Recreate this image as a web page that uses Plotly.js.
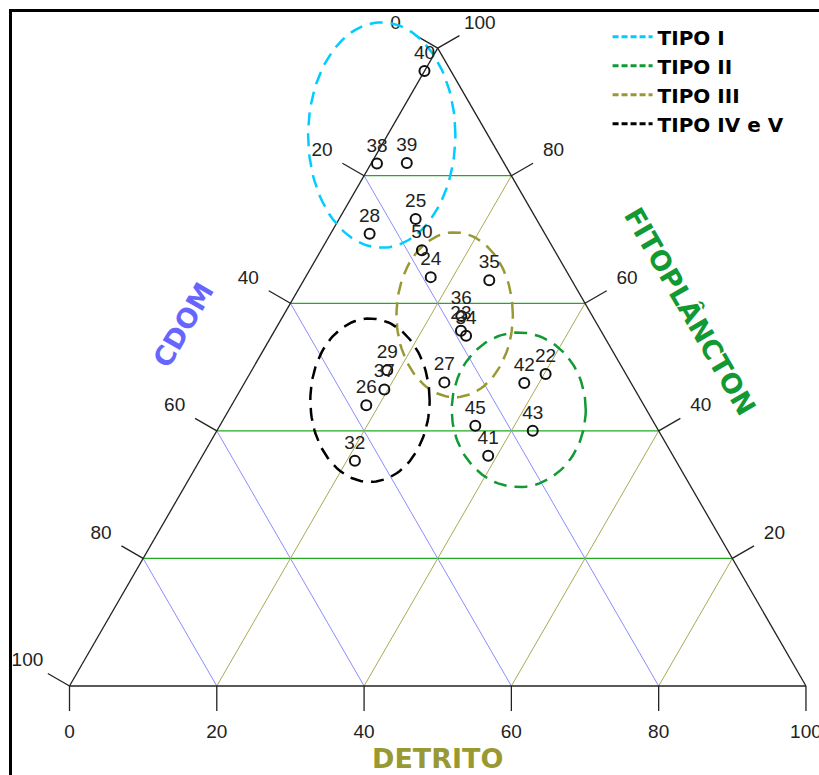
<!DOCTYPE html>
<html>
<head>
<meta charset="utf-8">
<script src="https://cdn.plot.ly/plotly-3.0.1.min.js"></script>
<style>html,body{margin:0;padding:0;background:#fff;}#chart{width:819px;height:775px;}</style>
</head>
<body>
<div id="chart"></div>
<script>
// ---------- data ----------
const sampleIds = ['40','38','39','25','28','50','24','35','36','23','34','29','37','26','32','27','42','22','45','43','41'];
const detrito = [0, 0.8, 4.8, 10.4, 5.3, 13.7, 17.0, 25.2, 24.2, 25.3, 26.4, 18.4, 19.5, 18.3, 21.1, 27.1, 38.0, 40.2, 34.7, 42.9, 38.8];
const cdom = [3.6, 17.3, 13.2, 16.4, 23.8, 18.0, 18.9, 11.2, 17.8, 19.0, 18.7, 32.1, 34.0, 37.7, 43.6, 25.3, 14.5, 10.9, 24.5, 17.1, 25.1];
const fitoplancton = [96.4, 81.9, 82.0, 73.2, 70.9, 68.3, 64.1, 63.6, 58.0, 55.7, 54.9, 49.5, 46.5, 44.0, 35.3, 47.6, 47.5, 48.9, 40.8, 40.0, 36.1];

const ternaryTicks = [0, 20, 40, 60, 80, 100];
const gridValues = [20, 40, 60, 80];
const axisNames = {bottom: 'DETRITO', left: 'CDOM', right: 'FITOPLÂNCTON'};

// water-type groups (ellipses drawn around the clusters, in plot units)
const groupNames = ['TIPO I', 'TIPO II', 'TIPO III', 'TIPO IV e V'];
const groupCx = [42.4, 61.0, 52.3, 40.8];
const groupCy = [74.8, 37.5, 50.4, 38.8];
const groupRx = [10.0, 9.1, 7.9, 8.1];
const groupRy = [15.3, 10.5, 11.2, 11.1];

// ---------- styles ----------
const groupColors = ['#00ccff', '#119933', '#999933', '#000000'];
const gridColors = {fito: '#22aa22', cdom: '#8c8cff', detrito: '#aaaa55'};
const titleColors = {bottom: '#999933', left: '#6666ff', right: '#119933'};
const tickFont = {family: 'Liberation Sans, Arial, sans-serif', size: 19, color: '#222'};

// ---------- geometry ----------
const H = Math.sqrt(3) / 2;
function xy(d, f) { return [d + f / 2, f * H]; }
function seg(p, q) { return [[p[0], q[0], null], [p[1], q[1], null]]; }

const traces = [];
function addLines(segs, color, width) {
  const X = [], Y = [];
  segs.forEach(s => { const r = seg(s[0], s[1]); X.push(...r[0]); Y.push(...r[1]); });
  traces.push({type: 'scatter', mode: 'lines', x: X, y: Y, line: {color: color, width: width},
    showlegend: false, hoverinfo: 'skip'});
}

// grid lines
addLines(gridValues.map(v => [xy(0, v), xy(100 - v, v)]), gridColors.fito, 1.2);
addLines(gridValues.map(v => [xy(0, 100 - v), xy(100 - v, 0)]), gridColors.cdom, 1);
addLines(gridValues.map(v => [xy(v, 0), xy(v, 100 - v)]), gridColors.detrito, 1);

// triangle
addLines([[xy(0, 0), xy(100, 0)], [xy(0, 0), xy(0, 100)], [xy(100, 0), xy(0, 100)]], '#222', 1.3);

// ticks + tick labels
const TL = 3.4, LO = 6.6;
const tickSegs = [], labX = [], labY = [], labT = [];
ternaryTicks.forEach(t => {
  // bottom (detrito)
  const b = xy(t, 0);
  tickSegs.push([b, [b[0], b[1] - TL]]);
  labX.push(b[0]); labY.push(b[1] - 6.35); labT.push(String(t));
  // left (cdom)
  const l = xy(0, 100 - t);
  tickSegs.push([l, [l[0] - TL * H, l[1] + TL * 0.5]]);
  labX.push(l[0] - LO * H); labY.push(l[1] + LO * 0.5); labT.push(String(t));
  // right (fitoplancton)
  if (t > 0) {
    const r = xy(100 - t, t);
    tickSegs.push([r, [r[0] + TL * H, r[1] + TL * 0.5]]);
    labX.push(r[0] + LO * H); labY.push(r[1] + LO * 0.5); labT.push(String(t));
  }
});
addLines(tickSegs, '#222', 1.3);
traces.push({type: 'scatter', mode: 'text', x: labX, y: labY, text: labT,
  textposition: 'middle center', textfont: tickFont, showlegend: false, hoverinfo: 'skip', cliponaxis: false});

// ellipses
groupNames.forEach((g, i) => {
  const X = [], Y = [];
  for (let k = 0; k <= 120; k++) {
    const a = 2 * Math.PI * k / 120;
    X.push(groupCx[i] + groupRx[i] * Math.cos(a));
    Y.push(groupCy[i] + groupRy[i] * Math.sin(a));
  }
  traces.push({type: 'scatter', mode: 'lines', x: X, y: Y,
    line: {color: groupColors[i], width: 2.5, dash: '13px,8px'}, showlegend: false, hoverinfo: 'skip'});
});

// samples
const px = [], py = [];
sampleIds.forEach((s, i) => {
  const tot = detrito[i] + cdom[i] + fitoplancton[i];
  const p = xy(100 * detrito[i] / tot, 100 * fitoplancton[i] / tot);
  px.push(p[0]); py.push(p[1]);
});
traces.push({type: 'scatter', mode: 'markers+text', x: px, y: py, text: sampleIds,
  textposition: 'top center', textfont: tickFont,
  marker: {symbol: 'circle-open', size: 10, color: '#111', line: {width: 2}},
  showlegend: false, hoverinfo: 'skip', cliponaxis: false});

// legend entries
groupNames.forEach((g, i) => {
  traces.push({type: 'scatter', mode: 'lines', x: [null], y: [null], name: '<b>' + g + '</b>',
    line: {color: groupColors[i], width: 3, dash: '6px,3px'}});
});

// axis titles
const titleFont = (c) => ({family: 'DejaVu Sans, sans-serif', size: 27, color: c});
const midL = xy(0, 50), midR = xy(50, 50);
const annotations = [
  {x: 50, y: -9.9, text: '<b>' + axisNames.bottom + '</b>', font: titleFont(titleColors.bottom), textangle: 0},
  {x: midL[0] - 11 * H, y: midL[1] + 11 * 0.5 + 0.3, text: '<b>' + axisNames.left + '</b>', font: titleFont(titleColors.left), textangle: -60},
  {x: midR[0] + 10.7 * H, y: midR[1] + 10.7 * 0.5 + 2.2, text: '<b>' + axisNames.right + '</b>', font: titleFont(titleColors.right), textangle: 60}
].map(a => Object.assign({xref: 'x', yref: 'y', showarrow: false, xanchor: 'center', yanchor: 'middle'}, a));

const layout = {
  width: 819, height: 775,
  margin: {l: 12, r: 0, t: 12, b: 0},
  paper_bgcolor: '#fff', plot_bgcolor: '#fff',
  showlegend: true,
  legend: {x: 0.738, y: 0.993, xanchor: 'left', yanchor: 'top', bgcolor: 'rgba(0,0,0,0)',
    font: {family: 'DejaVu Sans, sans-serif', size: 20, color: '#000'}, tracegroupgap: 0, itemwidth: 40},
  xaxis: {range: [-7.807, 101.77], showgrid: false, zeroline: false, showticklabels: false, ticks: '',
    side: 'top', showline: true, linecolor: '#000', linewidth: 3, fixedrange: true},
  yaxis: {range: [-12.084, 91.51], showgrid: false, zeroline: false, showticklabels: false, ticks: '',
    showline: true, linecolor: '#000', linewidth: 3, fixedrange: true},
  annotations: annotations,
  hovermode: false
};

Plotly.newPlot('chart', traces, layout, {displayModeBar: false, staticPlot: true});
</script>
</body>
</html>
